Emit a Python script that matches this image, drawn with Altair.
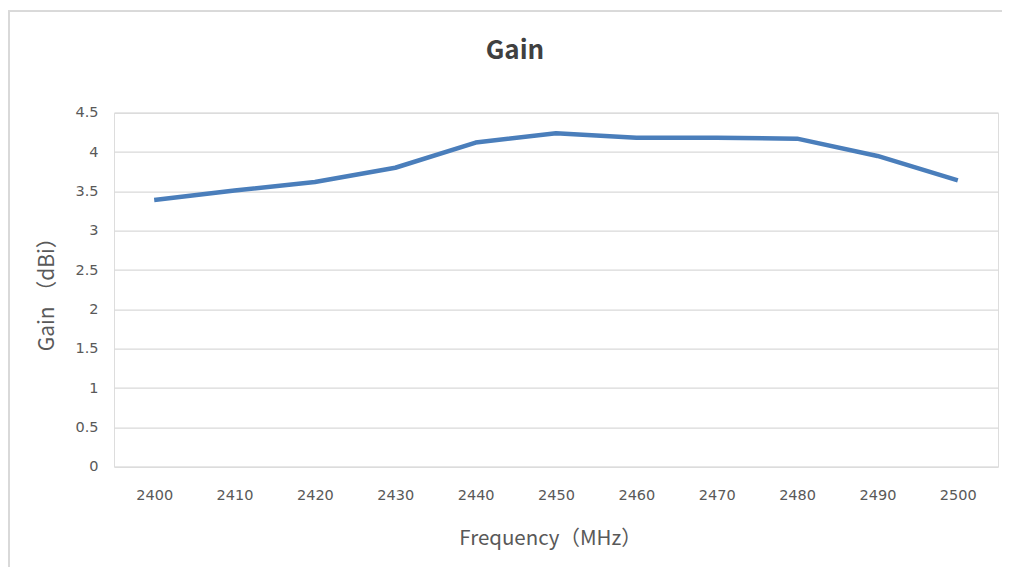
import altair as alt
import pandas as pd

freq = [2400, 2410, 2420, 2430, 2440, 2450, 2460, 2470, 2480, 2490, 2500]
gain = [3.39, 3.51, 3.62, 3.80, 4.12, 4.24, 4.18, 4.18, 4.17, 3.95, 3.64]
y_ticks = [0, 0.5, 1, 1.5, 2, 2.5, 3, 3.5, 4, 4.5]

df = pd.DataFrame({"freq": [str(f) for f in freq], "gain": gain})

FONT = "Noto Sans CJK SC"
LABEL_FONT = "DejaVu Sans"

line = alt.Chart(df).mark_line(
    color="#4a7ebb", strokeWidth=4.5, strokeJoin="round", strokeCap="butt"
).encode(
    x=alt.X("freq:N", sort=[str(f) for f in freq],
            scale=alt.Scale(type="point", padding=0.5),
            axis=alt.Axis(title="Frequency（MHz）", labelAngle=0, domain=False,
                          ticks=False, grid=False, labelPadding=22,
                          labelFont=LABEL_FONT, labelFontSize=14.5,
                          labelColor="#595959", titleFont=FONT,
                          titleFontSize=20.5, titleFontWeight="normal",
                          titleColor="#595959", titlePadding=26, titleX=436)),
    y=alt.Y("gain:Q", scale=alt.Scale(domain=[0, 4.5], nice=False),
            axis=alt.Axis(title="Gain （dBi）", values=y_ticks, format="~g",
                          domain=False, ticks=False, gridColor="#d9d9d9",
                          gridWidth=1.3, labelPadding=16, labelFont=LABEL_FONT,
                          labelFontSize=14.5, labelColor="#595959",
                          titleFont=FONT, titleFontSize=21,
                          titleFontWeight="normal", titleColor="#595959",
                          titlePadding=17, titleY=176))
)

# decorative chart-frame lines (Excel chart border)
frame_top = alt.Chart(df).mark_rule(color="#d9d9d9", strokeWidth=1.5).encode(
    x=alt.value(-110), x2=alt.value(890), y=alt.value(-101.5),
    y2=alt.value(-101.5))
frame_left = alt.Chart(df).mark_rule(color="#d9d9d9", strokeWidth=1.5).encode(
    x=alt.value(-105.5), x2=alt.value(-105.5), y=alt.value(-101.5),
    y2=alt.value(460))

chart = alt.layer(frame_top, frame_left, line).properties(
    width=884, height=354,
    title=alt.TitleParams("Gain", font=FONT, fontSize=26, fontWeight="bold",
                          color="#404040", anchor="middle", dx=-41, offset=-54),
    autosize=alt.AutoSizeParams(type="none"),
    padding={"left": 106, "top": 104.7, "right": 4, "bottom": 100},
).configure_view(stroke=None).configure(background="white")

chart.save("out.html", embed_options={"renderer": "svg", "actions": False})
